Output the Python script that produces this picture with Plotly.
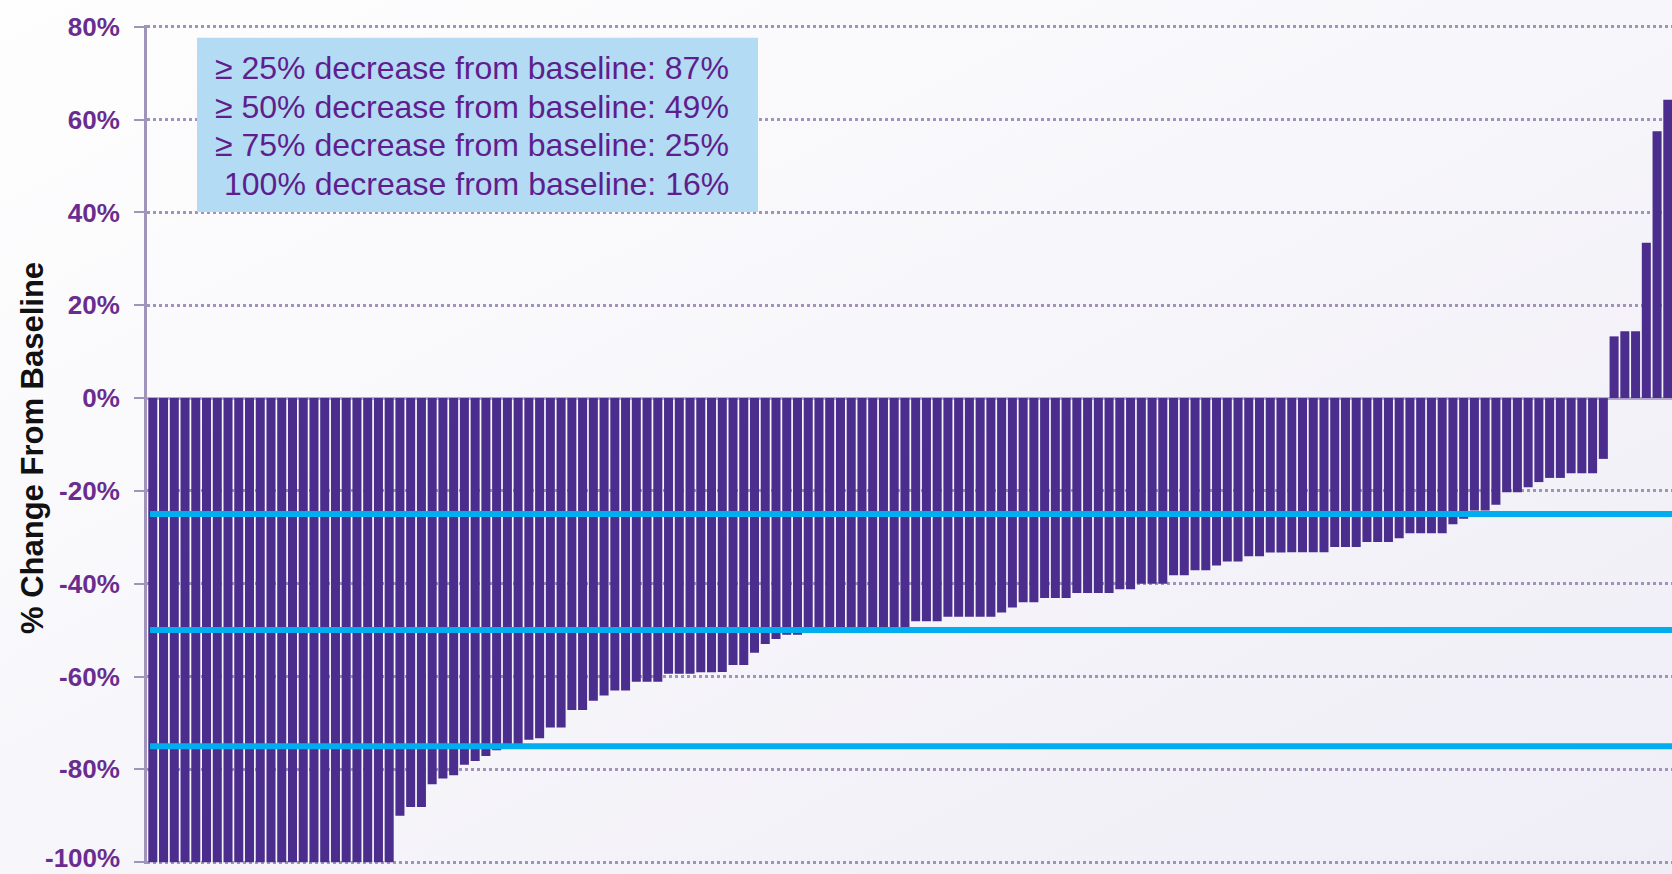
import base64
import plotly.graph_objects as go

# ---------------- data ----------------
pct_change = (
    [-100.0] * 23
    + [-90.0, -88.1, -88.1, -83.2, -82.0, -81.3, -79.0, -78.2, -77.1, -75.9,
       -75.0, -75.0, -73.6, -73.3, -71.0, -71.0, -67.2, -67.2, -65.2, -64.1,
       -63.0, -63.0, -61.1, -61.1, -61.1, -59.4, -59.4, -59.4, -59.1, -59.1,
       -59.0, -57.5, -57.5, -54.9, -53.0, -51.9, -51.0, -51.0]
    + [-50.0] * 9
    + [-49.5, -48.1, -48.1, -48.1, -47.1, -47.1, -47.1, -47.1, -47.1, -46.2,
       -45.1, -44.0, -44.0, -43.1, -43.1, -43.1, -42.0, -42.0, -42.0, -42.0,
       -41.2, -41.2, -40.0, -40.0, -40.0, -38.2, -38.2, -37.1, -37.1, -36.1,
       -35.2, -35.2, -34.1, -34.1, -33.3, -33.3, -33.2, -33.2, -33.2, -33.2,
       -32.1, -32.1, -32.1, -31.0, -31.0, -31.0, -30.2, -29.1, -29.1, -29.1,
       -29.1, -27.2, -26.0, -24.2, -24.2, -23.0, -20.3, -20.3, -19.2, -18.1,
       -17.2, -17.2, -16.2, -16.2, -16.2, -13.1,
       13.3, 14.4, 14.4, 33.5, 57.5, 64.3]
)
patients = list(range(len(pct_change)))

threshold_levels = [-25, -50, -75]
tick_values = [-100, -80, -60, -40, -20, 0, 20, 40, 60, 80]
tick_labels = ["-100%", "-80%", "-60%", "-40%", "-20%", "0%", "20%", "40%", "60%", "80%"]
summary_lines = [
    "\u2265 25% decrease from baseline: 87%",
    "\u2265 50% decrease from baseline: 49%",
    "\u2265 75% decrease from baseline: 25%",
    "100% decrease from baseline: 16%",
]
axis_title = "% Change From Baseline"

# ---------------- styling ----------------
W, H = 1672, 874
Y_TOP_PX, Y_BOT_PX = 27, 862        # pixel rows of 80% and -100%
YMIN, YMAX = -100, 80
PAD = 0.4
px_per_unit = (Y_BOT_PX - Y_TOP_PX) / (YMAX - YMIN)
MT = Y_TOP_PX - PAD * px_per_unit
MB = H - (Y_BOT_PX + PAD * px_per_unit)
ML, MR = 147, 0
PW = W - ML - MR

BAR = "#4a2d8c"
CYAN = "#00aeef"
GRID = "#a092bd"
AXIS = "#a194bb"
TICKTXT = "#6a2d8f"
BOXTXT = "#5e1e8e"
BOXFILL = "#b3dbf3"
TICKFONT = dict(family="Liberation Sans, Arial, sans-serif", size=26, color=TICKTXT, weight="bold")


def y_of_px(py):
    return YMAX - (py - Y_TOP_PX) / px_per_unit


def xp_of_px(px):
    return (px - ML) / PW


svg = (
    '<svg xmlns="http://www.w3.org/2000/svg" width="100" height="100" preserveAspectRatio="none">'
    '<defs><linearGradient id="g" x1="0" y1="0" x2="1" y2="1">'
    '<stop offset="0" stop-color="#fefefe"/><stop offset="1" stop-color="#efedf6"/>'
    '</linearGradient></defs><rect width="100" height="100" fill="url(#g)"/></svg>'
)
bg_src = "data:image/svg+xml;base64," + base64.b64encode(svg.encode()).decode()

fig = go.Figure()
fig.add_trace(go.Bar(
    x=patients, y=pct_change,
    marker=dict(color=BAR, line=dict(width=0)),
    hoverinfo="skip",
))

n = len(pct_change)
x_lo = -0.54
x_hi = x_lo + (n - 1 + 0.54 + 0.39)

shapes = []
for lvl in threshold_levels:
    shapes.append(dict(type="line", xref="paper", yref="y", x0=0.002, x1=1, y0=lvl, y1=lvl,
                       line=dict(color=CYAN, width=6), layer="above"))
shapes.append(dict(type="rect", xref="paper", yref="y",
                   x0=xp_of_px(197), x1=xp_of_px(758), y0=y_of_px(212), y1=y_of_px(38),
                   fillcolor=BOXFILL, line=dict(width=0), layer="above"))

annotations = []
line_centers_px = [68, 107, 145, 184]
for txt, cy in zip(summary_lines, line_centers_px):
    annotations.append(dict(
        text=txt, xref="paper", yref="y", x=xp_of_px(731), y=y_of_px(cy),
        xanchor="right", yanchor="middle", showarrow=False,
        font=dict(family="Liberation Sans, Arial, sans-serif", size=32, color=BOXTXT),
    ))
annotations.append(dict(
    text=axis_title, xref="paper", yref="y", x=xp_of_px(32), y=y_of_px(448),
    xanchor="center", yanchor="middle", textangle=-90, showarrow=False,
    font=dict(family="Liberation Sans, Arial, sans-serif", size=31, color="#111111", weight="bold"),
))

# the lowest tick label sits at the figure's bottom edge, where plotly drops it;
# draw that one as an annotation kept inside the page instead
axis_ticktext = list(tick_labels)
edge_idx = tick_values.index(YMIN)
axis_ticktext[edge_idx] = ""
annotations.append(dict(
    text=tick_labels[edge_idx], xref="paper", yref="paper", x=xp_of_px(121),
    y=-MB / (H - MT - MB),
    xanchor="right", yanchor="bottom", showarrow=False, borderpad=0, font=TICKFONT,
))

fig.update_layout(
    width=W, height=H,
    margin=dict(l=ML, r=MR, t=MT, b=MB, pad=0),
    paper_bgcolor="#fbfafd",
    plot_bgcolor="rgba(0,0,0,0)",
    bargap=0.16,
    showlegend=False,
    shapes=shapes,
    annotations=annotations,
    images=[dict(source=bg_src, xref="paper", yref="paper",
                 x=-ML / PW, y=1 + MT / (H - MT - MB),
                 sizex=W / PW, sizey=H / (H - MT - MB), sizing="stretch",
                 xanchor="left", yanchor="top", layer="below")],
    xaxis=dict(range=[x_lo, x_hi], showticklabels=False, showgrid=False, zeroline=False,
               showline=False, ticks=""),
    yaxis=dict(
        range=[YMIN - PAD, YMAX + PAD], tickvals=tick_values, ticktext=axis_ticktext,
        showgrid=True, gridcolor=GRID, gridwidth=3, griddash="dot",
        zeroline=True, zerolinecolor="#b4a8cc", zerolinewidth=2.5,
        showline=True, linecolor=AXIS, linewidth=3,
        ticks="outside", ticklen=10, tickwidth=2, tickcolor=AXIS,
        ticklabelstandoff=9,
        tickfont=TICKFONT,
    ),
)

fig.write_html("out.html")
